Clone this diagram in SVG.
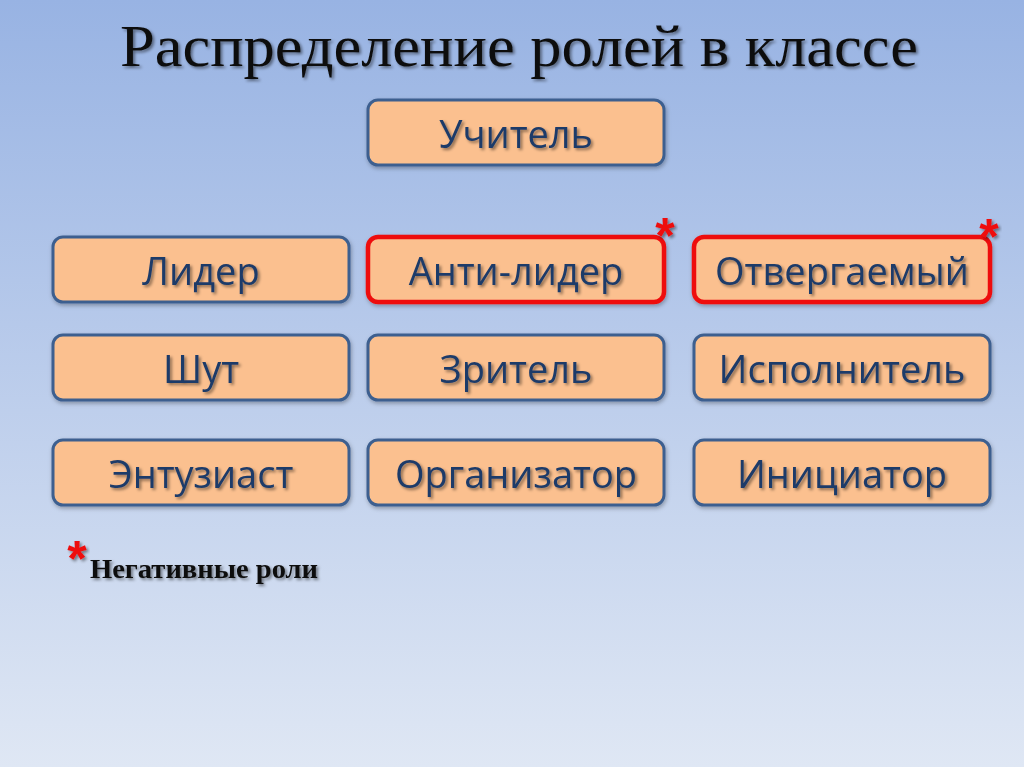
<svg xmlns="http://www.w3.org/2000/svg" width="1024" height="767" viewBox="0 0 1024 767">
<defs>
<linearGradient id="bg" x1="0" y1="0" x2="0" y2="1">
<stop offset="0" stop-color="#98b3e3"/>
<stop offset="1" stop-color="#dfe7f4"/>
</linearGradient>
<filter id="sh" x="-10%" y="-30%" width="120%" height="160%">
<feDropShadow dx="2" dy="2" stdDeviation="1.5" flood-color="#000" flood-opacity="0.45"/>
</filter>
<filter id="bs" x="-10%" y="-20%" width="120%" height="150%">
<feDropShadow dx="1" dy="2" stdDeviation="2" flood-color="#000" flood-opacity="0.3"/>
</filter>
</defs>
<style>
.box{fill:#fbc08f;stroke:#3d5f8f;stroke-width:3;}
.neg{fill:#fbc08f;stroke:#ee1111;stroke-width:4.5;}
.lbl{font-family:"Open Sans","Noto Sans",sans-serif;font-size:38px;fill:#1f3b69;text-anchor:middle;}
.ast{font-family:"Liberation Sans",sans-serif;font-weight:bold;fill:#ee1111;text-anchor:middle;font-size:50px;}
</style>
<rect width="1024" height="767" fill="url(#bg)"/>
<text x="519" y="66" font-family="Liberation Serif, serif" font-size="60" fill="#111" text-anchor="middle" textLength="798" lengthAdjust="spacingAndGlyphs" filter="url(#sh)">Распределение ролей в классе</text>
<g id="n-uchitel"><rect class="box" x="368" y="100" width="296" height="65" rx="10" filter="url(#bs)"/><text class="lbl" x="516" y="148" filter="url(#sh)">Учитель</text></g>
<g id="n-lider"><rect class="box" x="53" y="237" width="296" height="65" rx="10" filter="url(#bs)"/><text class="lbl" x="201" y="285" filter="url(#sh)">Лидер</text></g>
<g id="n-antilider"><rect class="neg" x="368" y="237" width="296" height="65" rx="10" filter="url(#bs)"/><text class="lbl" x="516" y="285" filter="url(#sh)">Анти-лидер</text><text class="ast" x="665" y="253" filter="url(#sh)">*</text></g>
<g id="n-otvergaemyi"><rect class="neg" x="694" y="237" width="296" height="65" rx="10" filter="url(#bs)"/><text class="lbl" x="842" y="285" filter="url(#sh)">Отвергаемый</text><text class="ast" x="989" y="254" filter="url(#sh)">*</text></g>
<g id="n-shut"><rect class="box" x="53" y="335" width="296" height="65" rx="10" filter="url(#bs)"/><text class="lbl" x="201" y="383" filter="url(#sh)">Шут</text></g>
<g id="n-zritel"><rect class="box" x="368" y="335" width="296" height="65" rx="10" filter="url(#bs)"/><text class="lbl" x="516" y="383" filter="url(#sh)">Зритель</text></g>
<g id="n-ispolnitel"><rect class="box" x="694" y="335" width="296" height="65" rx="10" filter="url(#bs)"/><text class="lbl" x="842" y="383" filter="url(#sh)">Исполнитель</text></g>
<g id="n-entuziast"><rect class="box" x="53" y="440" width="296" height="65" rx="10" filter="url(#bs)"/><text class="lbl" x="201" y="488" filter="url(#sh)">Энтузиаст</text></g>
<g id="n-organizator"><rect class="box" x="368" y="440" width="296" height="65" rx="10" filter="url(#bs)"/><text class="lbl" x="516" y="488" filter="url(#sh)">Организатор</text></g>
<g id="n-iniciator"><rect class="box" x="694" y="440" width="296" height="65" rx="10" filter="url(#bs)"/><text class="lbl" x="842" y="488" filter="url(#sh)">Инициатор</text></g>
<g id="connectors"></g>
<g id="footnote"><text class="ast" x="77" y="576" filter="url(#sh)">*</text><text x="90" y="578" font-family="Liberation Serif, serif" font-weight="bold" font-size="28" fill="#111" textLength="228" lengthAdjust="spacingAndGlyphs" filter="url(#sh)">Негативные роли</text></g>
</svg>
